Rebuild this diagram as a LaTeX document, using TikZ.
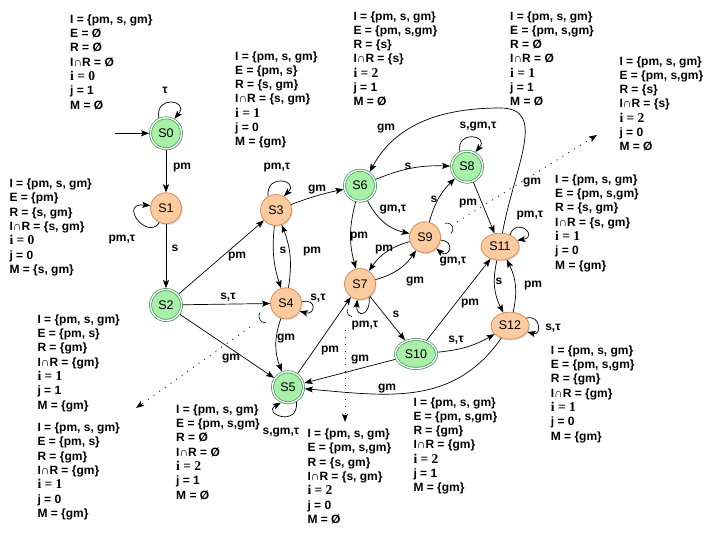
\documentclass[tikz,border=0pt]{standalone}
\usepackage{fontspec}
\setmainfont{Liberation Sans}
\newfontfamily\serifb{Liberation Serif}
\usetikzlibrary{arrows.meta,shapes.geometric,shadows}
\definecolor{gfill}{RGB}{168,240,168}
\definecolor{gdraw}{RGB}{60,150,85}
\definecolor{ofill}{RGB}{252,204,160}
\definecolor{odraw}{RGB}{215,140,90}
\newcommand\blk[6]{I = \{pm, s, gm\}\\E = #1\\R = #2\\I∩R = #3\\{\serifb\fontsize{13.5}{14.3}\selectfont i = #4}\\j = #5\\M = #6}
\begin{document}
\begin{tikzpicture}[x=1pt,y=1pt,
  >={Stealth[length=8pt,width=6pt,inset=1.5pt]},
  every node/.style={inner sep=0pt},
  base/.style={font=\fontsize{12.5}{14}\selectfont, drop shadow={shadow xshift=1.3pt,shadow yshift=-1.3pt,opacity=0.25}},
  gstate/.style={base, circle, minimum size=31pt, draw=gdraw, line width=0.7pt, double=white, double distance=1.4pt, fill=gfill, outer sep=1.4pt},
  ostate/.style={base, circle, minimum size=31pt, draw=odraw, line width=0.8pt, fill=ofill},
  oell/.style={base, ellipse, minimum width=38pt, minimum height=27pt, draw=odraw, line width=0.8pt, fill=ofill},
  gell/.style={base, ellipse, minimum width=41pt, minimum height=29pt, draw=gdraw, line width=0.7pt, double=white, double distance=1.4pt, fill=gfill, outer sep=1.4pt},
  arr/.style={->, line width=0.7pt},
  lbl/.style={font=\fontsize{12}{14}\selectfont\bfseries},
  anno/.style={font=\fontsize{12}{14.3}\selectfont\bfseries, align=left, anchor=north west},
  dotarr/.style={->, line width=0.9pt, dash pattern=on 0.9pt off 6pt},
]
\useasboundingbox (0,0) rectangle (715,535);

% annotation blocks
\node[anno] (aA) at (70,520.5) {\blk{Ø}{Ø}{Ø}{0}{1}{Ø}};
\node[anno] (aB) at (235,483.8) {\blk{\{pm, s\}}{\{s, gm\}}{\{s, gm\}}{1}{0}{\{gm\}}};
\node[anno] (aC) at (353.3,523.8) {\blk{\{pm, s,gm\}}{\{s\}}{\{s\}}{2}{1}{Ø}};
\node[anno] (aD) at (510,523.8) {\blk{\{pm, s,gm\}}{Ø}{Ø}{1}{1}{Ø}};
\node[anno] (aE) at (619.3,478.8) {\blk{\{pm, s,gm\}}{\{s\}}{\{s\}}{2}{0}{Ø}};
\node[anno] (aF) at (555,360.5) {\blk{\{pm, s,gm\}}{\{s, gm\}}{\{s, gm\}}{1}{0}{\{gm\}}};
\node[anno] (aG) at (9.3,356.2) {\blk{\{pm\}}{\{s, gm\}}{\{s, gm\}}{0}{0}{\{s, gm\}}};
\node[anno] (aH) at (37.3,220.5) {\blk{\{pm, s\}}{\{gm\}}{\{gm\}}{1}{1}{\{gm\}}};
\node[anno] (aI) at (37.3,112.2) {\blk{\{pm, s\}}{\{gm\}}{\{gm\}}{1}{0}{\{gm\}}};
\node[anno] (aJ) at (176,130.5) {\blk{\{pm, s,gm\}}{Ø}{Ø}{2}{1}{Ø}};
\node[anno] (aK) at (307.3,106.2) {\blk{\{pm, s,gm\}}{\{s, gm\}}{\{s, gm\}}{2}{0}{Ø}};
\node[anno] (aL) at (413.3,137.8) {\blk{\{pm, s,gm\}}{\{gm\}}{\{gm\}}{2}{1}{\{gm\}}};
\node[anno] (aM) at (550.7,189.5) {\blk{\{pm, s,gm\}}{\{gm\}}{\{gm\}}{1}{0}{\{gm\}}};

% states
\node[gstate] (S0) at (166,401.7) {S0};
\node[ostate] (S1) at (166,326.7) {S1};
\node[gstate] (S2) at (166,230) {S2};
\node[ostate] (S3) at (276,325) {S3};
\node[ostate] (S4) at (286,231.7) {S4};
\node[gstate] (S5) at (288,147.7) {S5};
\node[gstate] (S6) at (360,349.3) {S6};
\node[ostate] (S7) at (360,251) {S7};
\node[gstate] (S8) at (467,368.3) {S8};
\node[ostate] (S9) at (425,297.7) {S9};
\node[gell] (S10) at (416,181) {S10};
\node[oell] (S11) at (500,288.3) {S11};
\node[oell] (S12) at (510,209.3) {S12};

% connectors
\coordinate (init) at (115,401.7);
\draw[arr] (init) -- (S0);
\draw[arr] (S0.115) .. controls +(100:24) and +(50:24) .. (S0.60);
\draw[arr] (S0) -- (S1);
\draw[arr] (S1.-115) .. controls +(235:22) and +(175:32) .. (S1.170);
\draw[arr] (S1) -- (S2);
\draw[arr] (S2) -- (S3);
\draw[arr] (S2) -- (S4);
\draw[arr] (S2) -- (S5);
\draw[arr] (S3.120) .. controls +(95:24) and +(45:22) .. (S3.60);
\draw[arr] (S3) to[bend left=4] (S6);
\draw[arr] (S3) to[bend right=12] (S4);
\draw[arr] (S4) to[bend right=15] (S3);
\draw[arr] (S4.5) .. controls +(15:16) and +(-15:16) .. (S4.-30);
\draw[arr] (S4) to[bend right=20] (S5);
\draw[arr] (S5) -- (S7);
\draw[arr] (S10) -- (S5);
\draw[arr] (S12) to[out=-125,in=-5,looseness=1.05] (S5);
\draw[arr] (S5.-60) .. controls +(-85:26) and +(-150:22) .. (S5.-115);
\draw[arr] (S6) to[bend left=12] (S8);
\draw[arr] (S11.80) .. controls (515,370) and (548,427) .. (500,427) .. controls (440,427) and (395,410) .. (S6.55);
\draw[arr] (S6) to[bend right=25] (S9);
\draw[arr] (S6) to[bend right=15] (S7);
\draw[arr] (S9) to[bend right=20] (S7);
\draw[arr] (S7) to[bend right=20] (S9);
\draw[arr] (S9) to[bend left=15] (S8);
\draw[arr] (S9.-10) .. controls +(-5:16) and +(-40:16) .. (S9.-45);
\draw[arr] (S8.115) .. controls +(100:22) and +(50:22) .. (S8.60);
\draw[arr] (S8) -- (S11);
\draw[arr] (S11.50) .. controls +(70:20) and +(10:22) .. (S11.20);
\draw[arr] (S11) to[bend right=20] (S12);
\draw[arr] (S12) to[bend right=20] (S11);
\draw[arr] (S12.25) .. controls +(15:15) and +(-15:15) .. (S12.-20);
\draw[arr] (S10) -- (S11);
\draw[arr] (S10) to[bend right=12] (S12);
\draw[arr] (S7) -- (S10);
\draw[arr] (S7.-55) .. controls +(-85:20) and +(-95:18) .. (S7.-100);

% dotted arrows and small arcs
\coordinate (d1s) at (250,208); \coordinate (d1e) at (136,127);
\coordinate (d2s) at (345,205); \coordinate (d2e) at (345,113);
\coordinate (d3s) at (457,313); \coordinate (d3e) at (597,400);
\draw[dotarr] (d1s) -- (d1e);
\draw[dotarr] (d2s) -- (d2e);
\draw[dotarr] (d3s) -- (d3e);
\draw[line width=0.6pt] (259.9,222.5) arc[start angle=150,end angle=270,radius=7];
\draw[line width=0.6pt] (444.9,311.6) arc[start angle=110,end angle=-50,radius=6];
\draw[line width=0.6pt] (347.4,226.1) arc[start angle=160,end angle=260,radius=6];

% edge labels
\node[lbl] (l00) at (165,445) {τ};
\node[lbl] (l01) at (182,367) {pm};
\node[lbl] (l11) at (122,295) {pm,τ};
\node[lbl] (l12) at (175,287) {s};
\node[lbl] (l23) at (237,278) {pm};
\node[lbl] (l24) at (228,238) {s,τ};
\node[lbl] (l25) at (231,176) {gm};
\node[lbl] (l33) at (277,367) {pm,τ};
\node[lbl] (l36) at (317,345.7) {gm};
\node[lbl] (l34) at (283,285) {s};
\node[lbl] (l43) at (312,283.3) {pm};
\node[lbl] (l44) at (318,237) {s,τ};
\node[lbl] (l45) at (286,196) {gm};
\node[lbl] (l57) at (330,184.3) {pm};
\node[lbl] (l105) at (360,175.7) {gm};
\node[lbl] (l125) at (387,146.7) {gm};
\node[lbl] (l55) at (281,102.3) {s,gm,τ};
\node[lbl] (l68) at (408,369) {s};
\node[lbl] (l116a) at (386,406.7) {gm};
\node[lbl] (l116b) at (532,352) {gm};
\node[lbl] (l69) at (393,325) {gm,τ};
\node[lbl] (l67) at (359,298) {pm};
\node[lbl] (l97) at (384,285) {pm};
\node[lbl] (l79) at (415,253.3) {gm};
\node[lbl] (l98) at (434,336) {s};
\node[lbl] (l99) at (453,273) {gm,τ};
\node[lbl] (l88) at (478,408.3) {s,gm,τ};
\node[lbl] (l811) at (468,331) {pm};
\node[lbl] (l1111) at (530,319) {pm,τ};
\node[lbl] (l1112) at (499,253.3) {s};
\node[lbl] (l1211) at (533,249.3) {pm};
\node[lbl] (l1212) at (553,206.7) {s,τ};
\node[lbl] (l1011) at (470,231.7) {pm};
\node[lbl] (l1012) at (456,195) {s,τ};
\node[lbl] (l710) at (396,221) {s};
\node[lbl] (l77) at (365,209) {pm,τ};
\end{tikzpicture}
\end{document}
